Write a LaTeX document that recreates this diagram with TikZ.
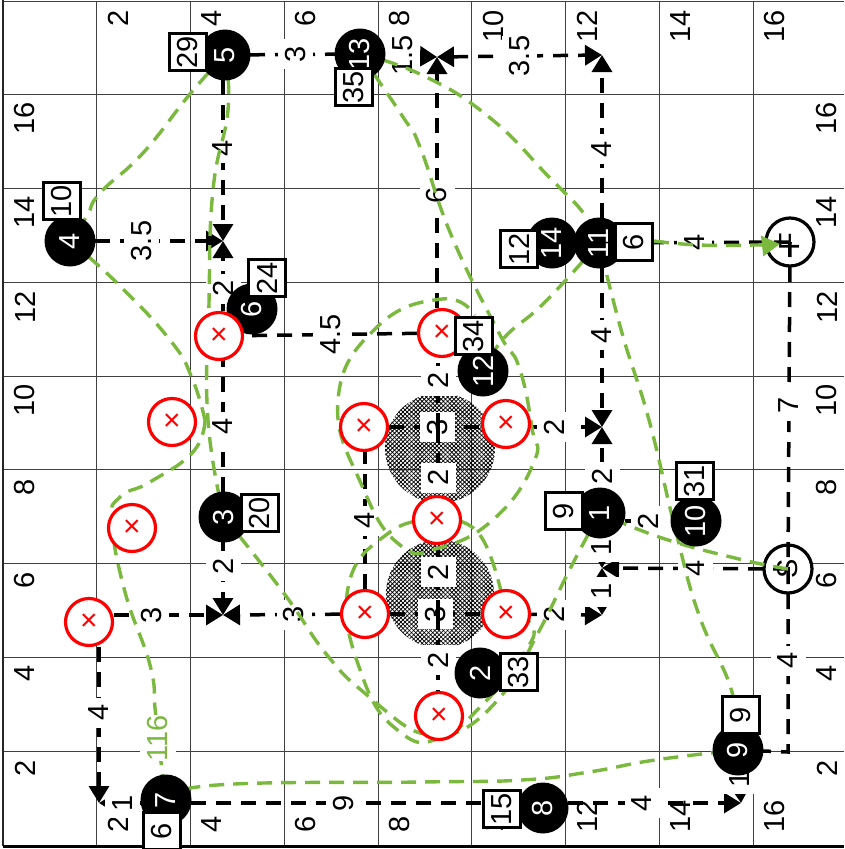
\documentclass[tikz,border=0pt]{standalone}
\usepackage{fontspec}
\setmainfont{Liberation Sans}
\usetikzlibrary{arrows.meta,patterns.meta}
\pgfdeclarelayer{bgl}\pgfdeclarelayer{circl}\pgfdeclarelayer{linesl}\pgfdeclarelayer{curvesl}
\pgfsetlayers{bgl,circl,linesl,curvesl,main}
\definecolor{grn}{HTML}{7AB83E}
\definecolor{gridc}{HTML}{404040}
\tikzset{
 x=1pt,y=-1pt,
 every node/.style={font=\fontsize{29}{30}\selectfont,inner sep=0pt},
 ax/.style={rotate=90},
 bnode/.style={circle,fill=black,text=white,minimum size=51pt,rotate=90},
 rnode/.style={circle,draw=red,fill=white,line width=3.2pt,minimum size=47pt,text=red,font=\fontsize{30}{30}\selectfont},
 onode/.style={circle,draw=black,fill=white,line width=3.2pt,minimum size=48pt,rotate=90},
 numbox/.style={rectangle,draw=black,fill=white,line width=3.2pt,minimum size=37pt,rotate=90},
 elabel/.style={fill=white,rotate=90,minimum width=30pt,minimum height=35pt},
 edge/.style={draw=black,line width=3.5pt,dash pattern=on 15pt off 10pt},
 tip/.style={-{Triangle[width=20pt,length=17pt]}},
 tips/.style={{Triangle[width=20pt,length=17pt]}-{Triangle[width=20pt,length=17pt]}},
 gcurve/.style={draw=grn,line width=3.4pt,dash pattern=on 15pt off 9pt},
 gridline/.style={draw=gridc,line width=1pt},
 hatchfill/.style={pattern={Lines[angle=45,distance=3pt,line width=.8pt]},pattern color=black},
 hatchfillb/.style={pattern={Lines[angle=-45,distance=3pt,line width=.8pt]},pattern color=black},
 smoothc/.style={smooth,tension=.8},
}
\begin{document}
\begin{tikzpicture}
\useasboundingbox (0,0) rectangle (844,849);
% junctions
\coordinate (j1) at (223,241);
\coordinate (j2) at (223,615);
\coordinate (j3) at (437,57);
\coordinate (j4) at (602,55);
\coordinate (j5) at (602,427);
\coordinate (j6) at (602,568);
\coordinate (j7) at (602,615);
\coordinate (j8) at (99,803);
\coordinate (j9) at (741,803);
\coordinate (j10) at (788,752);
\coordinate (j11) at (438,428);
\coordinate (j12) at (438,615);
% black nodes
\node[bnode] (n5) at (225,55) {5};
\node[bnode] (n13) at (360,54) {13};
\node[bnode] (n4) at (70,241) {4};
\node[bnode] (n6) at (252,309) {6};
\node[bnode] (n14) at (552,243) {14};
\node[bnode] (n11) at (599,243) {11};
\node[bnode] (n12) at (483,371) {12};
\node[bnode] (n3) at (224,517) {3};
\node[bnode] (n1) at (600,513) {1};
\node[bnode] (n10) at (696,521) {10};
\node[bnode] (n2) at (480,673) {2};
\node[bnode] (n9) at (738,750) {9};
\node[bnode] (n8) at (543,808) {8};
\node[bnode] (n7) at (166,800) {7};
% red nodes
\node[rnode] (r1) at (219,336) {×};
\node[rnode] (r2) at (172,422) {×};
\node[rnode] (r3) at (364,427) {×};
\node[rnode] (r4) at (442,333) {×};
\node[rnode] (r5) at (506,424) {×};
\node[rnode] (r6) at (132,528) {×};
\node[rnode] (r7) at (437,520) {×};
\node[rnode] (r8) at (89,622) {×};
\node[rnode] (r9) at (365,614) {×};
\node[rnode] (r10) at (506,614) {×};
\node[rnode] (r11) at (439,716) {×};
% boxes
\node[numbox] (b29) at (188,52) {29};
\node[numbox] (b35) at (354,87) {35};
\node[numbox] (b10) at (62,201) {10};
\node[numbox] (b24) at (267,278) {24};
\node[numbox] (b34) at (474,336) {34};
\node[numbox] (b12) at (519,249) {12};
\node[numbox] (b6) at (634,242) {6};
\node[numbox] (b20) at (260,513) {20};
\node[numbox] (b6b) at (162,831) {6};
\node[numbox] (b9) at (564,511) {9};
\node[numbox] (b31) at (695,481) {31};
\node[numbox] (b33) at (519,672) {33};
\node[numbox] (b9b) at (741,715) {9};
\node[numbox] (b15) at (502,809) {15};
\begin{pgfonlayer}{bgl}
 \fill[white] (0,0) rectangle (844,849);
 \foreach \gx in {96.5,190,284,378,471.5,565,659,753}
   \draw[gridline] (\gx,1) -- (\gx,845);
 \foreach \gy in {94,188,282,376,469,563,657,751}
   \draw[gridline] (3,\gy) -- (844,\gy);
 \draw[gridline] (3,1) -- (844,1);
 \draw[draw=black!85,line width=2pt] (3,0) -- (3,846);
 \draw[draw=black,line width=3pt] (3,846) -- (844,846);
 \fill[hatchfill] (440,448) circle (55);
 \fill[hatchfillb] (440,448) circle (55);
 \fill[hatchfill] (440,594) circle (54);
 \fill[hatchfillb] (440,594) circle (54);
 % axis labels: top, bottom, left, right
 \foreach \lab/\pos in {2/118,4/212,6/306,8/400,10/494,12/587,14/681,16/775}{
   \node[ax,anchor=east] at (\pos,10) {\lab};
   \node[ax,anchor=west] at (\pos,833) {\lab};
 }
 \foreach \lab/\pos in {16/118,14/212,12/307,10/400,8/487,6/580,4/673,2/768}{
   \node[ax] at (25,\pos) {\lab};
   \node[ax] at (827,\pos) {\lab};
 }
\end{pgfonlayer}
\begin{pgfonlayer}{circl}
 \node[onode] (nS) at (788,569) {S};
 \node[onode] (nF) at (790,242) {F};
\end{pgfonlayer}
\begin{pgfonlayer}{linesl}
 \draw[edge] (n5.center) -- node[elabel,pos=.52]{3} (n13.center);
 \draw[edge,tip] (j1|-n5) -- node[elabel]{4} (j1);
 \draw[edge,tip] (n4.center) -- node[elabel,pos=.47]{3.5} (j1);
 \draw[edge,tip] (j1|-r1) -- node[elabel]{2} (j1);
 \draw[edge] (r4.center) -- node[elabel]{4.5} (r1.center);
 \draw[edge] (j1|-n3) -- node[elabel]{4} (j1|-r1);
 \draw[edge,tip] (j1|-n3) -- node[elabel]{2} (j2);
 \draw[edge,tip] (r8|-j2) -- node[elabel,pos=.47]{3} (j2);
 \draw[edge,tip] (r9.center) -- node[elabel]{3} (j2);
 \draw[edge] (r9.center) -- node[elabel]{4} (r9|-r3);
 \draw[edge,tip] (n7|-j8) -- node[elabel,pos=.65]{1} (j8);
 \draw[edge,tip] (j8|-r8) -- node[elabel]{4} (j8);
 \draw[edge] (n7|-j8) -- node[elabel,pos=.47]{9} (n8|-j8);
 \draw[edge,tip] (n8|-j8) -- node[elabel]{4} (j9);
 \draw[edge,tip] (n9.center) -- node[elabel,pos=.55]{1} (j9);
 \draw[edge,tip] (n13.center) -- node[elabel,pos=.55]{1.5} (j3);
 \draw[edge,tips] (j3) -- node[elabel]{3.5} (j4);
 \draw[edge,tip] (j3|-r4) -- node[elabel]{6} (j3);
 \draw[edge,tip] (j4|-n11) -- node[elabel]{4} (j4);
 \draw[edge,tip] (j5|-n11) -- node[elabel]{4} (j5);
 \draw[edge,tip] (j5|-n1) -- node[elabel,pos=.42]{2} (j5);
 \draw[edge,tip] (r5|-j5) -- node[elabel]{2} (j5);
 \draw[edge,tip] (r10.center) -- node[elabel]{2} (j7);
 \draw[edge,tip] (nS.center) -- node[elabel]{4} (j6);
 \draw[edge,tip] (j6|-n1) -- node[elabel,pos=.62]{1} (j6);
 \draw[edge,tips] (j6) -- node[elabel]{1} (j7);
 \draw[edge] (nF.center) -- node[elabel]{7} (nS.center);
 \draw[edge] (nS.center) -- node[elabel]{4} (j10) -- (n9.center);
 \draw[edge] (n1|-n10) -- node[elabel]{2} (n10.center);
 \draw[edge] (n11.center) -- node[elabel]{4} (nF.center);
 \draw[edge] (r3.center) -- node[elabel,pos=.52]{3} (r5|-r3);
 \draw[edge] (r9.center) -- node[elabel]{3} (r10.center);
 \draw[edge] (j11) -- node[elabel]{2} (j11|-r4);
 \draw[edge] (j11) -- node[elabel,pos=.54]{2} (j11|-r7);
 \draw[edge] (j12) -- node[elabel,pos=.45]{2} (j12|-r7);
 \draw[edge] (j12) -- node[elabel,pos=.45]{2} (j12|-r11);
\end{pgfonlayer}
\begin{pgfonlayer}{curvesl}
 % 5 - 4
 \draw[gcurve] plot[smoothc] coordinates {(n5) (190,94) (143,153) (100,193) (87,216) (n4)};
 % 5 - 3
 \draw[gcurve] plot[smoothc] coordinates {(n5) (228,110) (213,190) (209,303) (208,420) (n3)};
 % 4 - ... - 7
 \draw[gcurve] plot[smoothc] coordinates {(n4) (117,283) (170,340) (192,378) (205,420)};
 \draw[gcurve] plot[smoothc] coordinates {(205,420) (193,452) (150,482) (120,497) (112,522) (125,592) (150,665) (155,708) (158,738) (n7)};
 % 7 - 9
 \draw[gcurve] plot[smoothc] coordinates {(n7) (217,785) (422,782) (522,780) (589,772) (655,760) (n9)};
 % 9 - 11
 \draw[gcurve] plot[smoothc] coordinates {(n9) (732,692) (699,615) (675,528) (649,420) (622,333) (n11)};
 % S - 1
 \draw[gcurve] plot[smoothc] coordinates {(nS) (739,559) (662,538) (n1)};
 % 1 - 2
 \draw[gcurve] plot[smoothc] coordinates {(n1) (572,565) (537,635) (502,695) (455,733) (r11)};
 % 11 - 12
 \draw[gcurve] plot[smoothc] coordinates {(n11) (545,302) (504,338) (n12)};
 % 13 - 11
 \draw[gcurve] plot[smoothc] coordinates {(n13) (422,75) (489,117) (549,177) (585,215) (n11)};
 % 13 - loop
 \draw[gcurve] plot[smoothc] coordinates {(n13) (403,117) (420,147) (452,237) (499,333) (519,367) (532,428) (534,462) (495,518) (439,548) (400,545) (363,488) (338,400) (377,327) (442,299) (475,315)};
 % 3 - r11
 \draw[gcurve] plot[smoothc] coordinates {(n3) (283,592) (327,655) (367,695) (420,733) (r11)};
 % r7 - r9 - r10
 \draw[gcurve] plot[smoothc] coordinates {(r7) (390,532) (348,588) (363,678) (400,732) (440,738) (485,702) (525,652) (532,625) (r10)};
 % r7 - r10
 \draw[gcurve] plot[smoothc] coordinates {(r7) (480,535) (r10)};
 % 6 - F
 \draw[gcurve,-{Triangle[width=20pt,length=18pt]}] plot[smoothc] coordinates {(654,241) (699,245) (755,245) (780,244)};
 \node[fill=white,rotate=90,text=grn,minimum height=36pt] (l116) at (158,738) {116};
\end{pgfonlayer}
\end{tikzpicture}
\end{document}
